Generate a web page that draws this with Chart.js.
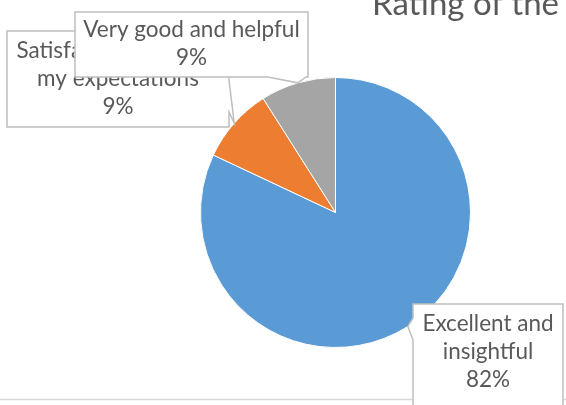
<!DOCTYPE html>
<html>
<head>
<meta charset="utf-8">
<script src="https://cdn.jsdelivr.net/npm/chart.js@4.4.1/dist/chart.umd.min.js"></script>
<style>
  body { margin: 0; background: #fff; }
  canvas { display: block; }
</style>
</head>
<body>
<canvas id="ratingChart" width="566" height="405"></canvas>
<script>
// chart data
const categories = ['Excellent and insightful', 'Satisfactory and met my expectations', 'Very good and helpful'];
const labelLines = [['Excellent and', 'insightful'], ['Satisfactory and met', 'my expectations'], ['Very good and helpful']];
const percentages = [82, 9, 9];
const sliceColors = ['#5B9BD5', '#ED7D31', '#A5A5A5'];
const titleText = 'Rating of the';

// callout boxes (x, y, w, h), side the pointer leaves from, and the pointer base along that side
const callouts = [
  { box: [413, 304, 150, 110], side: 'left', base: [318, 340], textY: 324 },
  { box: [7, 31, 222, 96], side: 'right', base: [80, 112], textY: 51 },
  { box: [75, 12, 233, 65], side: 'bottom', base: [268, 306], textY: 30 }
];

const textColor = '#595959';
const labelFont = '22.5px Lato';
const lineHeight = 28;

function calloutPath(ctx, c, tip) {
  const [x, y, w, h] = c.box;
  ctx.beginPath();
  ctx.moveTo(x, y);
  ctx.lineTo(x + w, y);
  if (c.side === 'right') {
    ctx.lineTo(x + w, c.base[0]);
    ctx.lineTo(tip.x, tip.y);
    ctx.lineTo(x + w, c.base[1]);
  }
  ctx.lineTo(x + w, y + h);
  if (c.side === 'bottom') {
    ctx.lineTo(c.base[1], y + h);
    ctx.lineTo(tip.x, tip.y);
    ctx.lineTo(c.base[0], y + h);
  }
  ctx.lineTo(x, y + h);
  if (c.side === 'left') {
    ctx.lineTo(x, c.base[1]);
    ctx.lineTo(tip.x, tip.y);
    ctx.lineTo(x, c.base[0]);
  }
  ctx.closePath();
}

const calloutLabels = {
  id: 'calloutLabels',
  beforeDraw(chart) {
    const ctx = chart.ctx;
    ctx.save();
    ctx.fillStyle = '#fff';
    ctx.fillRect(0, 0, chart.width, chart.height);
    // outer chart border, only the bottom edge shows
    ctx.strokeStyle = '#D9D9D9';
    ctx.lineWidth = 1.5;
    ctx.beginPath();
    ctx.moveTo(0, 399.5);
    ctx.lineTo(chart.width, 399.5);
    ctx.stroke();
    ctx.restore();
  },
  afterDraw(chart) {
    const ctx = chart.ctx;
    const meta = chart.getDatasetMeta(0);
    ctx.save();

    // title, runs off the top right of the picture
    ctx.fillStyle = textColor;
    ctx.font = '33px Lato';
    ctx.textAlign = 'left';
    ctx.textBaseline = 'alphabetic';
    ctx.fillText(titleText, 372, 15);

    meta.data.forEach((arc, i) => {
      const p = arc.getProps(['x', 'y', 'startAngle', 'endAngle', 'outerRadius'], true);
      const mid = (p.startAngle + p.endAngle) / 2;
      const tip = { x: p.x + Math.cos(mid) * p.outerRadius, y: p.y + Math.sin(mid) * p.outerRadius };
      const c = callouts[i];

      calloutPath(ctx, c, tip);
      ctx.fillStyle = '#fff';
      ctx.fill();
      ctx.strokeStyle = '#BFBFBF';
      ctx.lineWidth = 1.5;
      ctx.stroke();

      const lines = labelLines[i].concat([percentages[i] + '%']);
      const cx = c.box[0] + c.box[2] / 2;
      ctx.fillStyle = textColor;
      ctx.font = labelFont;
      ctx.textAlign = 'center';
      ctx.textBaseline = 'middle';
      lines.forEach((line, j) => {
        ctx.fillText(line, cx, c.textY + j * lineHeight);
      });
    });
    ctx.restore();
  }
};

new Chart(document.getElementById('ratingChart'), {
  type: 'pie',
  data: {
    labels: categories,
    datasets: [{
      data: percentages,
      backgroundColor: sliceColors,
      borderColor: '#fff',
      borderWidth: 1
    }]
  },
  options: {
    responsive: false,
    animation: false,
    devicePixelRatio: 1,
    layout: {
      padding: { left: 200, top: 77, right: 95, bottom: 57 }
    },
    plugins: {
      legend: { display: false },
      tooltip: { enabled: false },
      title: { display: false }
    }
  },
  plugins: [calloutLabels]
});
</script>
</body>
</html>
